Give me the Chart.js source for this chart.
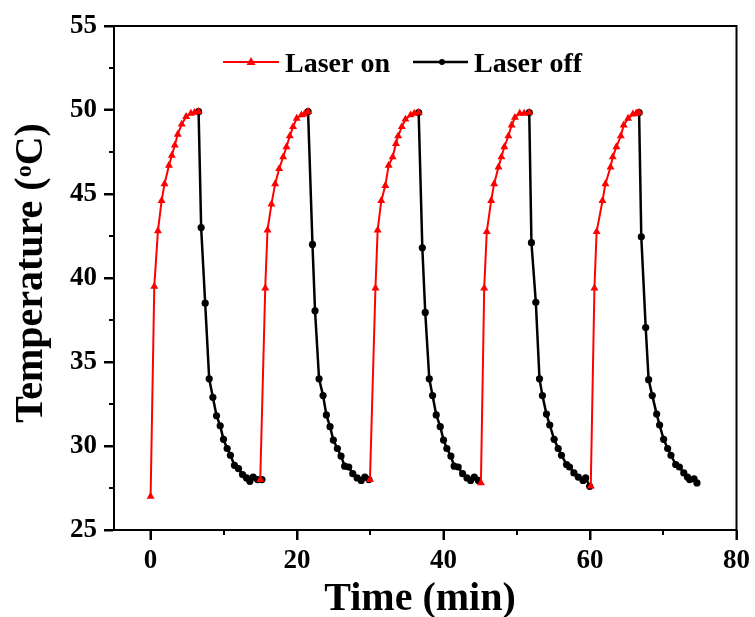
<!DOCTYPE html>
<html>
<head>
<meta charset="utf-8">
<script src="https://cdn.jsdelivr.net/npm/chart.js@4.4.1/dist/chart.umd.min.js"></script>
<style>
  body { margin: 0; background: #fff; }
</style>
</head>
<body>
<canvas id="chart" width="755" height="617"></canvas>
<script>
// heating / cooling cycles, null marks the break between cycles
var onTime = [
  0, 0.5, 1.0, 1.5, 1.9, 2.5, 2.9, 3.3, 3.7, 4.25, 4.85, 5.5, 6.0, 6.55, null,
  14.97, 15.65, 15.96, 16.5, 17.0, 17.55, 18.1, 18.55, 19.0, 19.45, 19.95, 20.6, 21.0, 21.5, null,
  29.95, 30.7, 31.0, 31.5, 32.05, 32.5, 33.05, 33.5, 33.8, 34.3, 34.8, 35.5, 36.0, 36.6, null,
  45.1, 45.55, 45.9, 46.5, 46.9, 47.5, 47.9, 48.3, 48.85, 49.3, 49.75, 50.4, 51.0, 51.7, null,
  60.1, 60.6, 60.9, 61.7, 62.1, 62.8, 63.1, 63.6, 64.2, 64.6, 65.2, 65.85, 66.3, 66.7
];
var onTemp = [
  27.0, 39.5, 42.8, 44.6, 45.6, 46.7, 47.3, 47.9, 48.55, 49.15, 49.6, 49.8, 49.85, 49.9, null,
  28.0, 39.4, 42.85, 44.4, 45.6, 46.5, 47.2, 47.8, 48.45, 49.0, 49.5, 49.7, 49.75, 49.9, null,
  28.0, 39.4, 42.85, 44.6, 45.5, 46.7, 47.2, 48.0, 48.45, 49.0, 49.45, 49.7, 49.8, 49.85, null,
  27.8, 39.4, 42.75, 44.6, 45.6, 46.6, 47.2, 47.8, 48.45, 49.1, 49.55, 49.8, 49.8, 49.85, null,
  27.6, 39.4, 42.75, 44.6, 45.6, 46.6, 47.2, 47.8, 48.45, 49.1, 49.5, 49.75, 49.8, 49.85
];
var offTime = [
  6.55, 6.9, 7.45, 8.0, 8.5, 9.0, 9.5, 9.95, 10.45, 10.9, 11.45, 12.0, 12.55, 13.1, 13.55, 14.0, 14.6, 15.2, null,
  21.5, 22.1, 22.45, 23.0, 23.55, 24.0, 24.5, 24.95, 25.5, 26.0, 26.5, 27.05, 27.6, 28.2, 28.75, 29.25, 29.8, null,
  36.6, 37.1, 37.5, 38.05, 38.5, 39.0, 39.55, 40.0, 40.45, 41.0, 41.45, 42.0, 42.6, 43.2, 43.7, 44.2, 44.75, null,
  51.7, 52.0, 52.6, 53.1, 53.5, 54.05, 54.5, 55.1, 55.65, 56.1, 56.8, 57.2, 57.8, 58.4, 59.05, 59.4, 59.95, null,
  66.7, 67.0, 67.6, 68.0, 68.5, 69.1, 69.5, 70.05, 70.6, 71.05, 71.7, 72.2, 72.8, 73.3, 73.6, 74.2, 74.6
];
var offTemp = [
  49.9, 43.0, 38.5, 34.0, 32.9, 31.8, 31.2, 30.4, 29.85, 29.45, 28.85, 28.65, 28.3, 28.1, 27.9, 28.15, 28.0, 28.0, null,
  49.9, 42.0, 38.05, 34.0, 33.0, 31.85, 31.15, 30.35, 29.85, 29.4, 28.8, 28.75, 28.35, 28.1, 27.95, 28.15, 28.0, null,
  49.85, 41.8, 37.95, 34.0, 33.0, 31.85, 31.15, 30.35, 29.85, 29.4, 28.8, 28.75, 28.35, 28.1, 27.95, 28.15, 27.95, null,
  49.85, 42.1, 38.55, 34.0, 33.0, 31.9, 31.25, 30.4, 29.85, 29.45, 28.9, 28.75, 28.4, 28.15, 27.95, 28.1, 27.6, null,
  49.85, 42.45, 37.05, 33.95, 33.0, 31.9, 31.25, 30.4, 29.85, 29.45, 28.9, 28.75, 28.4, 28.15, 28.0, 28.05, 27.8
];
var seriesNames = ['Laser on', 'Laser off'];
var xTicks = [0, 20, 40, 60, 80];
var yTicks = [25, 30, 35, 40, 45, 50, 55];

var RED = 'rgb(255,0,0)';
var FONT = 'Liberation Serif, Times New Roman, serif';

function toPoints(xs, ys) {
  return xs.map(function (x, i) { return { x: x, y: ys[i] }; });
}

// tick marks, top/right frame, axis titles and legend
var decor = {
  id: 'decor',
  afterDraw: function (chart) {
    var ctx = chart.ctx;
    var a = chart.chartArea;
    var xs = chart.scales.x, ys = chart.scales.y;
    ctx.save();
    ctx.strokeStyle = '#000';
    ctx.lineWidth = 2;
    ctx.strokeRect(a.left, a.top, a.right - a.left, a.bottom - a.top);

    // major ticks (10px) and minor ticks (5px) halfway between them
    ctx.beginPath();
    xTicks.forEach(function (v, i) {
      var px = Math.round(xs.getPixelForValue(v));
      ctx.moveTo(px, a.bottom);
      ctx.lineTo(px, a.bottom + 10);
      if (i < xTicks.length - 1) {
        var mx = Math.round(xs.getPixelForValue((v + xTicks[i + 1]) / 2));
        ctx.moveTo(mx, a.bottom);
        ctx.lineTo(mx, a.bottom + 5);
      }
    });
    yTicks.forEach(function (v, i) {
      var py = Math.round(ys.getPixelForValue(v));
      ctx.moveTo(a.left, py);
      ctx.lineTo(a.left - 10, py);
      if (i < yTicks.length - 1) {
        var my = Math.round(ys.getPixelForValue((v + yTicks[i + 1]) / 2));
        ctx.moveTo(a.left, my);
        ctx.lineTo(a.left - 5, my);
      }
    });
    ctx.stroke();

    ctx.fillStyle = '#000';
    // x title
    ctx.font = 'bold 40px ' + FONT;
    ctx.textAlign = 'center';
    ctx.textBaseline = 'alphabetic';
    ctx.fillText('Time (min)', 420, 610);

    // y title with superscript o
    ctx.save();
    ctx.translate(42, 273);
    ctx.rotate(-Math.PI / 2);
    ctx.textAlign = 'left';
    var big = 'bold 40px ' + FONT, small = 'bold 24px ' + FONT;
    ctx.font = big;
    var w1 = ctx.measureText('Temperature (').width;
    var w3 = ctx.measureText('C)').width;
    ctx.font = small;
    var w2 = ctx.measureText('o').width;
    var x0 = -(w1 + w2 + w3) / 2;
    ctx.font = big;
    ctx.fillText('Temperature (', x0, 0);
    ctx.font = small;
    ctx.fillText('o', x0 + w1, -11);
    ctx.font = big;
    ctx.fillText('C)', x0 + w1 + w2, 0);
    ctx.restore();

    // legend
    var ly = 62;
    ctx.lineWidth = 2;
    ctx.strokeStyle = RED;
    ctx.beginPath();
    ctx.moveTo(223, ly); ctx.lineTo(279, ly);
    ctx.stroke();
    ctx.fillStyle = RED;
    ctx.beginPath();
    ctx.moveTo(251, ly - 5); ctx.lineTo(255.5, ly + 3); ctx.lineTo(246.5, ly + 3);
    ctx.closePath();
    ctx.fill();
    ctx.strokeStyle = '#000';
    ctx.lineWidth = 2.4;
    ctx.beginPath();
    ctx.moveTo(413, ly); ctx.lineTo(468, ly);
    ctx.stroke();
    ctx.fillStyle = '#000';
    ctx.beginPath();
    ctx.arc(442, ly, 3, 0, Math.PI * 2);
    ctx.fill();
    ctx.font = 'bold 28px ' + FONT;
    ctx.textAlign = 'left';
    ctx.fillText(seriesNames[0], 285, 71.5);
    ctx.fillText(seriesNames[1], 474, 71.5);
    ctx.restore();
  }
};

var tickFont = { family: FONT, weight: 'bold', size: 27 };

new Chart(document.getElementById('chart'), {
  type: 'scatter',
  data: {
    datasets: [{
      label: seriesNames[0],
      data: toPoints(onTime, onTemp),
      showLine: true,
      borderColor: RED,
      backgroundColor: RED,
      borderWidth: 2,
      pointStyle: 'triangle',
      pointRadius: 4.6,
      pointBorderWidth: 0,
      pointBackgroundColor: RED
    }, {
      label: seriesNames[1],
      data: toPoints(offTime, offTemp),
      showLine: true,
      borderColor: '#000',
      backgroundColor: '#000',
      borderWidth: 2.5,
      pointStyle: 'circle',
      pointRadius: 3.6,
      pointBorderWidth: 0,
      pointBackgroundColor: '#000'
    }]
  },
  options: {
    responsive: false,
    animation: false,
    devicePixelRatio: 1,
    layout: { padding: { left: 0, top: 26, right: 16, bottom: 0 } },
    scales: {
      x: {
        type: 'linear',
        min: -5,
        max: 80,
        afterBuildTicks: function (s) { s.ticks = xTicks.map(function (v) { return { value: v }; }); },
        afterFit: function (s) { s.height = 87; },
        ticks: { font: tickFont, color: '#000', padding: 5 },
        grid: { drawOnChartArea: false, tickLength: 10, tickWidth: 2, tickColor: '#000' },
        border: { display: true, color: '#000', width: 2 }
      },
      y: {
        min: 25,
        max: 55,
        afterBuildTicks: function (s) { s.ticks = yTicks.map(function (v) { return { value: v }; }); },
        afterFit: function (s) { s.width = 114; },
        ticks: { font: tickFont, color: '#000', padding: 7 },
        grid: { drawOnChartArea: false, tickLength: 10, tickWidth: 2, tickColor: '#000' },
        border: { display: true, color: '#000', width: 2 }
      }
    },
    plugins: {
      legend: { display: false },
      tooltip: { enabled: false }
    }
  },
  plugins: [decor]
});
</script>
</body>
</html>
